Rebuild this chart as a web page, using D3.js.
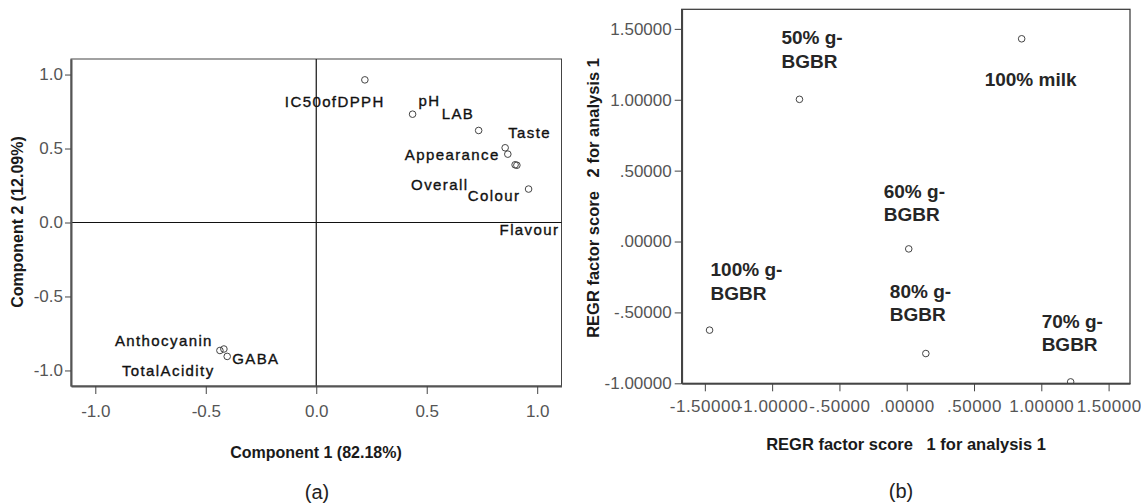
<!DOCTYPE html>
<html>
<head>
<meta charset="utf-8">
<script src="https://cdn.jsdelivr.net/npm/d3@7"></script>
<style>
  body { margin: 0; background: #fff; }
  svg { display: block; font-family: "Liberation Sans", Arial, sans-serif; }
  .tick text { fill: #555; }
  .tick line { stroke: #444; }
</style>
</head>
<body>
<div id="chart"></div>
<script>

// ---- panel (a): component loadings ----
var loadingNames = ["IC50ofDPPH", "pH", "LAB", "Taste", "Appearance", "Overall", "Colour", "Flavour", "Anthocyanin", "TotalAcidity", "GABA"];
var loadingX = [0.220, 0.436, 0.735, 0.855, 0.867, 0.900, 0.908, 0.961, -0.436, -0.418, -0.403];
var loadingY = [0.964, 0.732, 0.622, 0.505, 0.462, 0.390, 0.387, 0.226, -0.865, -0.855, -0.905];
var loadingTicks = [-1.0, -0.5, 0.0, 0.5, 1.0];

// ---- panel (b): factor scores ----
var sampleLines = [["50% g-", "BGBR"], ["100% milk"], ["60% g-", "BGBR"], ["100% g-", "BGBR"], ["80% g-", "BGBR"], ["70% g-", "BGBR"]];
var scoreX = [-0.797, 0.854, 0.015, -1.465, 0.142, 1.218];
var scoreY = [1.003, 1.430, -0.052, -0.625, -0.790, -0.990];
var scoreTicksX = [-1.5, -1.0, -0.5, 0.0, 0.5, 1.0, 1.5];
var scoreTicksY = [-1.0, -0.5, 0.0, 0.5, 1.0, 1.5];

// label placement (pixel offsets from each point, as SPSS put them)
var loadingLabelDx = [-80, 6, -37, 3, -103, -104, -49, -29, -105, -102, 5];
var loadingLabelDy = [27, -8, -11, -10, 6, 25, 36, 46, -4, 27, 8];
var sampleLabelDx = [-18, -37, -25, 1, -36, -29];
var sampleLabelDy = [-55, 47, -51, -54, -56, -54];

var svg = d3.select("#chart").append("svg")
    .attr("width", 1141)
    .attr("height", 503);

// SPSS style: plain hyphen minus, no leading zero on the score axes
var loc = d3.formatLocale({decimal: ".", thousands: ",", grouping: [3], currency: ["", ""], minus: "-"});
var fmt1 = loc.format(".1f");
function spssFmt(v) {
  return loc.format(".5f")(v).replace(/^(-?)0\./, "$1.");
}

// ================= (a) =================
var ax = d3.scaleLinear().domain([-1.11, 1.11]).range([71, 561.5]);
var ay = d3.scaleLinear().domain([-1.105, 1.105]).range([386, 59]);

var ga = svg.append("g");

ga.append("rect")
    .attr("x", ax.range()[0]).attr("y", ay.range()[1])
    .attr("width", ax.range()[1] - ax.range()[0])
    .attr("height", ay.range()[0] - ay.range()[1])
    .style("fill", "none").style("stroke", "#444").style("stroke-width", 1);

// reference lines through the origin
ga.append("line")
    .attr("x1", ax(0)).attr("x2", ax(0)).attr("y1", ay.range()[1]).attr("y2", ay.range()[0])
    .style("stroke", "#111").style("stroke-width", 1.2);
ga.append("line")
    .attr("x1", ax.range()[0]).attr("x2", ax.range()[1]).attr("y1", ay(0)).attr("y2", ay(0))
    .style("stroke", "#111").style("stroke-width", 1.2);

var axA = ga.append("g")
    .attr("transform", "translate(0," + ay.range()[0] + ")")
    .call(d3.axisBottom(ax).tickValues(loadingTicks).tickFormat(fmt1)
      .tickSize(8).tickSizeOuter(0).tickPadding(11));
var ayA = ga.append("g")
    .attr("transform", "translate(" + ax.range()[0] + ",0)")
    .call(d3.axisLeft(ay).tickValues(loadingTicks).tickFormat(fmt1)
      .tickSize(6).tickSizeOuter(0).tickPadding(2));
[axA, ayA].forEach(function(a) {
  a.select(".domain").style("stroke", "#555").style("stroke-width", 2);
  a.selectAll(".tick text").style("font-size", "17px").style("font-family", "Liberation Sans");
});

ga.selectAll("circle.pt")
    .data(loadingNames)
    .enter().append("circle")
    .attr("class", "pt")
    .attr("r", 3.3)
    .attr("cx", function(d, i) { return ax(loadingX[i]); })
    .attr("cy", function(d, i) { return ay(loadingY[i]); })
    .style("fill", "none").style("stroke", "#444").style("stroke-width", 1);

ga.selectAll("text.lbl")
    .data(loadingNames)
    .enter().append("text")
    .attr("class", "lbl")
    .attr("x", function(d, i) { return ax(loadingX[i]) + loadingLabelDx[i]; })
    .attr("y", function(d, i) { return ay(loadingY[i]) + loadingLabelDy[i]; })
    .style("font-size", "15px")
    .style("letter-spacing", "1.4px")
    .style("fill", "#111")
    .style("stroke", "#111").style("stroke-width", 0.35)
    .text(function(d) { return d; });

ga.append("text")
    .attr("x", 316).attr("y", 452).attr("dy", "0.35em")
    .style("text-anchor", "middle").style("font-size", "16px").style("font-weight", "bold").style("fill", "#1a1a1a")
    .text("Component 1 (82.18%)");

ga.append("text")
    .attr("transform", "translate(17,222) rotate(-90)")
    .attr("dy", "0.35em")
    .style("text-anchor", "middle").style("font-size", "16px").style("font-weight", "bold").style("fill", "#1a1a1a")
    .text("Component 2 (12.09%)");

ga.append("text")
    .attr("x", 317).attr("y", 492).attr("dy", "0.35em")
    .style("text-anchor", "middle").style("font-size", "20px").style("fill", "#222")
    .text("(a)");

// ================= (b) =================
var bx = d3.scaleLinear().domain([-1.672, 1.659]).range([681.7, 1130]);
var by = d3.scaleLinear().domain([-1.0, 1.638]).range([383.3, 9.3]);

var gb = svg.append("g");

gb.append("rect")
    .attr("x", bx.range()[0]).attr("y", by.range()[1])
    .attr("width", bx.range()[1] - bx.range()[0])
    .attr("height", by.range()[0] - by.range()[1])
    .style("fill", "none").style("stroke", "#333").style("stroke-width", 1.2);

var axB = gb.append("g")
    .attr("transform", "translate(0," + by.range()[0] + ")")
    .call(d3.axisBottom(bx).tickValues(scoreTicksX).tickFormat(spssFmt)
      .tickSize(8).tickSizeOuter(0).tickPadding(9));
var ayB = gb.append("g")
    .attr("transform", "translate(" + bx.range()[0] + ",0)")
    .call(d3.axisLeft(by).tickValues(scoreTicksY).tickFormat(spssFmt)
      .tickSize(7).tickSizeOuter(0).tickPadding(3));
[axB, ayB].forEach(function(a) {
  a.select(".domain").style("stroke", "#444").style("stroke-width", 1.8);
  a.selectAll(".tick text").style("font-size", "17px").style("font-family", "Liberation Sans");
});
axB.selectAll(".tick text").style("letter-spacing", "0.5px");

// clip the points to the frame like the original
gb.append("clipPath").attr("id", "clipB")
  .append("rect")
    .attr("x", bx.range()[0]).attr("y", by.range()[1])
    .attr("width", bx.range()[1] - bx.range()[0])
    .attr("height", by.range()[0] - by.range()[1]);

gb.append("g").attr("clip-path", "url(#clipB)")
  .selectAll("circle")
    .data(sampleLines)
    .enter().append("circle")
    .attr("r", 3.3)
    .attr("cx", function(d, i) { return bx(scoreX[i]); })
    .attr("cy", function(d, i) { return by(scoreY[i]); })
    .style("fill", "none").style("stroke", "#444").style("stroke-width", 1);

var lbl = gb.selectAll("text.lbl")
    .data(sampleLines)
    .enter().append("text")
    .attr("class", "lbl")
    .style("font-size", "19px").style("font-weight", "bold").style("fill", "#262626");

lbl.each(function(d, i) {
  var x0 = bx(scoreX[i]) + sampleLabelDx[i];
  var y0 = by(scoreY[i]) + sampleLabelDy[i];
  d3.select(this).selectAll("tspan")
    .data(d)
    .enter().append("tspan")
    .attr("x", x0)
    .attr("y", function(t, j) { return y0 + j * 23.5; })
    .text(function(t) { return t; });
});

gb.append("text")
    .attr("x", 906).attr("y", 444).attr("dy", "0.35em")
    .style("text-anchor", "middle").style("font-size", "16.5px").style("font-weight", "bold").style("fill", "#1a1a1a")
    .style("white-space", "pre")
    .text("REGR factor score   1 for analysis 1");

gb.append("text")
    .attr("transform", "translate(593,198) rotate(-90)")
    .attr("dy", "0.35em")
    .style("text-anchor", "middle").style("font-size", "16.5px").style("font-weight", "bold").style("fill", "#1a1a1a")
    .style("white-space", "pre")
    .text("REGR factor score   2 for analysis 1");

gb.append("text")
    .attr("x", 901).attr("y", 491).attr("dy", "0.35em")
    .style("text-anchor", "middle").style("font-size", "20px").style("fill", "#222")
    .text("(b)");

</script>
</body>
</html>
